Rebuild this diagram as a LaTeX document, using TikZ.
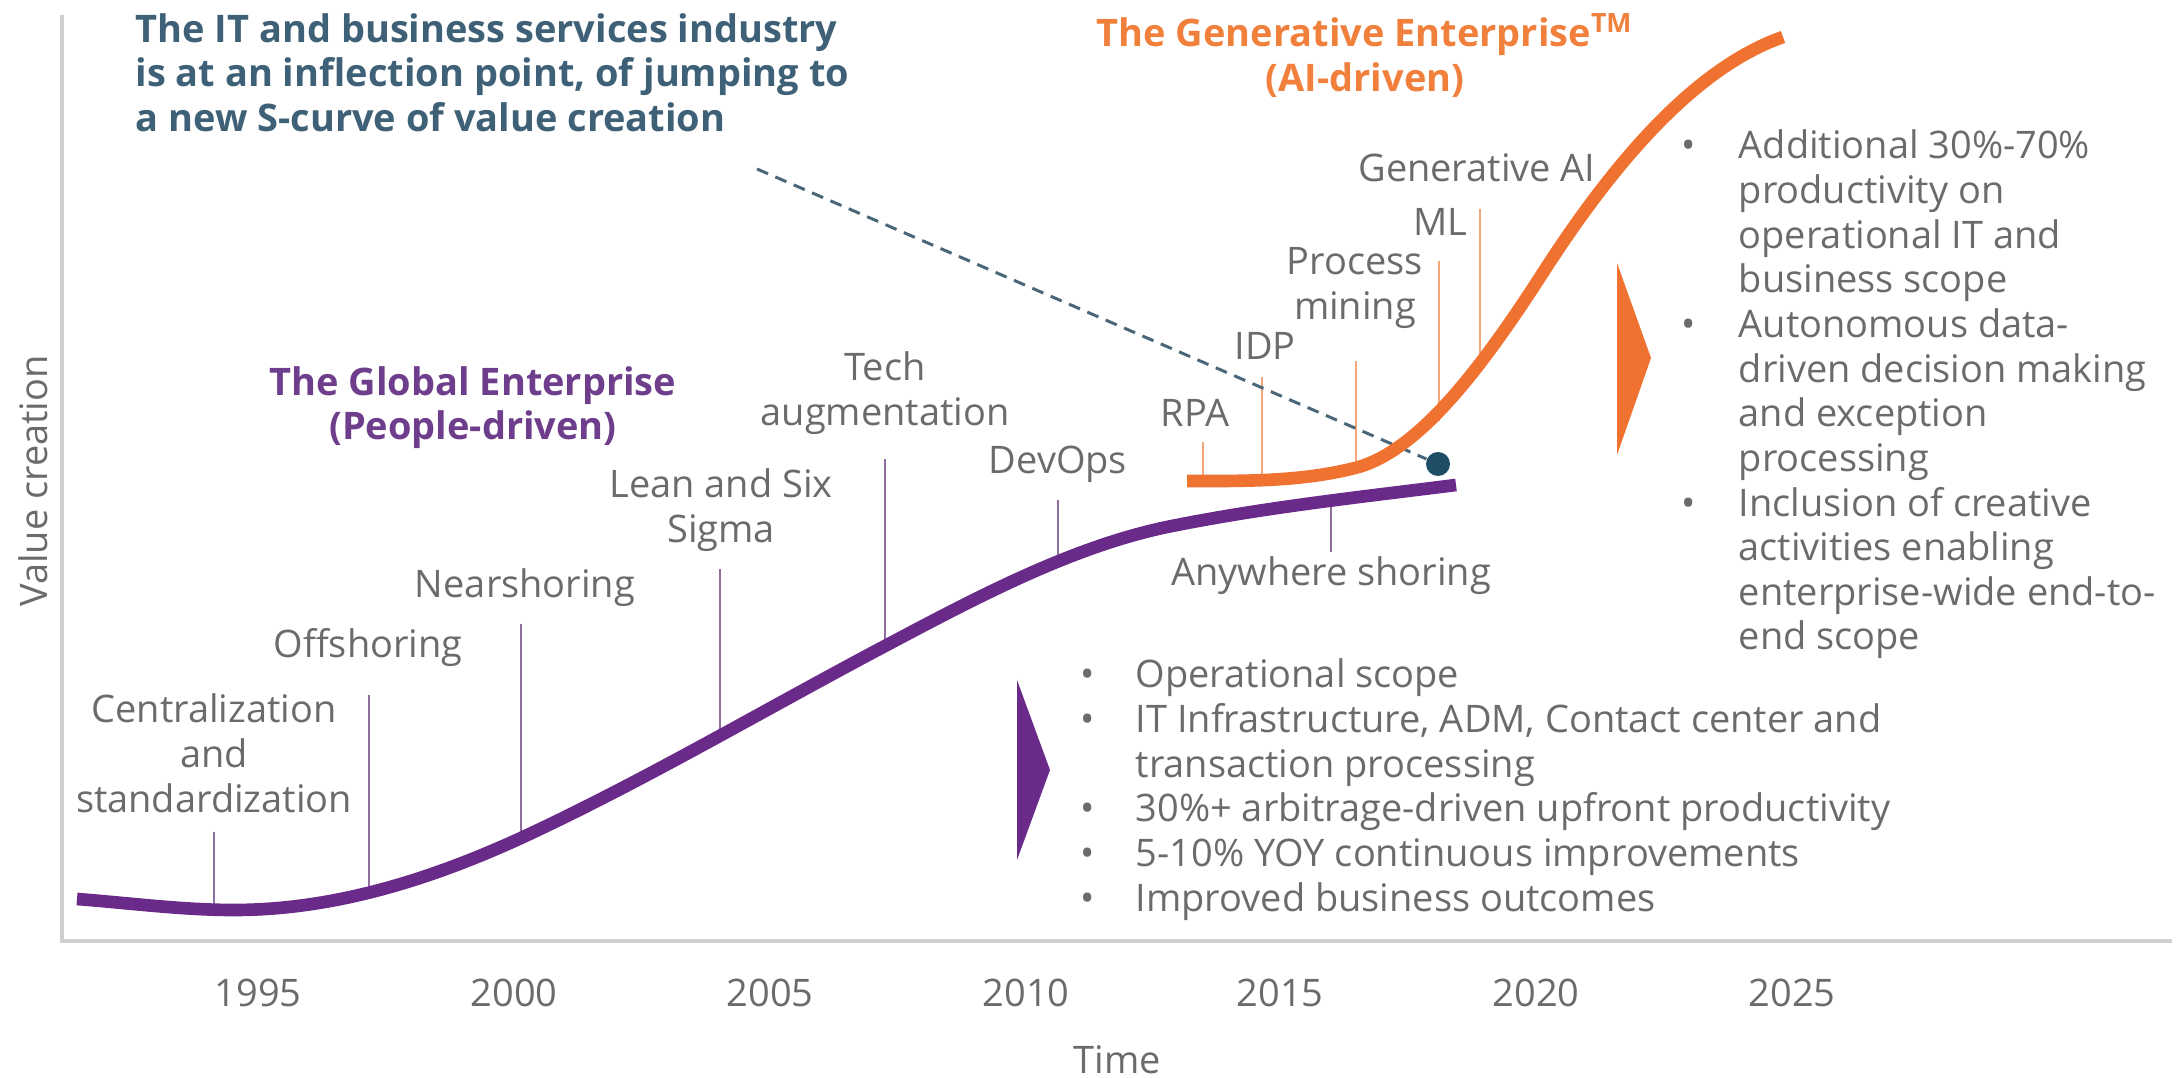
\documentclass[tikz,border=0pt]{standalone}
\usepackage{fontspec}
\setmainfont{Open Sans}
\usepackage{tikz}
\usetikzlibrary{positioning}
\definecolor{titleblue}{HTML}{3F6177}
\definecolor{dotblue}{HTML}{1D4E66}
\definecolor{dashblue}{HTML}{4A6779}
\definecolor{curvepurple}{HTML}{6A2A8A}
\definecolor{titlepurple}{HTML}{6E3D8C}
\definecolor{tickpurple}{HTML}{8E6FA0}
\definecolor{curveorange}{HTML}{EF7231}
\definecolor{titleorange}{HTML}{F0803C}
\definecolor{tickorange}{HTML}{F5A57C}
\definecolor{labelgrey}{HTML}{6B6B6B}
\definecolor{axisgrey}{HTML}{CFCFCF}
\tikzset{
  greylabel/.style={text=labelgrey, font=\fontsize{10.8}{12.8}\selectfont, align=center, inner sep=0pt},
  titletext/.style={font=\fontsize{10.8}{12.6}\selectfont\bfseries, align=center, inner sep=0pt},
  bulletlist/.style={text=labelgrey, font=\fontsize{10.8}{12.7}\selectfont, inner sep=0pt, anchor=base west},
  purpletick/.style={draw=tickpurple, line width=0.6pt},
  orangetick/.style={draw=tickorange, line width=0.6pt},
  scurve/.style={line width=3.6pt}
}

\begin{document}
\begin{tikzpicture}[x=1cm, y=-1cm]
  \useasboundingbox (0,0) rectangle (21.77,10.78);

  % Axes
  \draw[axisgrey, line width=0.9pt] (0.62,0.15) -- (0.62,9.41) -- (21.72,9.41);
  \node[greylabel, rotate=90] (valuelabel) at (0.33,4.81) {Value creation};
  \node[greylabel] (timelabel) at (11.17,10.60) {Time};

  % Year markers
  \foreach \x/\yr in {2.58/1995, 5.14/2000, 7.70/2005, 10.26/2010, 12.80/2015, 15.36/2020, 17.92/2025} {
    \node[greylabel] (yr\yr) at (\x,9.93) {\yr};
  }

  % Milestone ticks of the people-driven curve
  \foreach \n/\x/\ya/\yb in {cen/2.14/8.32/9.10, off/3.69/6.95/8.93, near/5.21/6.24/8.38,
      lean/7.20/5.69/7.37, tech/8.85/4.59/6.46, devops/10.58/5.00/5.61, anyw/13.31/5.04/5.52} {
    \coordinate (\n-top) at (\x,\ya);
    \coordinate (\n-bot) at (\x,\yb);
    \draw[purpletick] (\n-top) -- (\n-bot);
  }

  % Milestone ticks of the AI-driven curve
  \foreach \n/\x/\ya/\yb in {rpa/12.03/4.42/4.81, idp/12.62/3.77/4.80, pm/13.56/3.61/4.68,
      ml/14.39/2.61/4.21, genai/14.80/2.09/3.71} {
    \coordinate (\n-top) at (\x,\ya);
    \coordinate (\n-bot) at (\x,\yb);
    \draw[orangetick] (\n-top) -- (\n-bot);
  }

  % Inflection point marker
  \node[circle, fill=dotblue, minimum size=0.24cm, inner sep=0pt] (jump) at (14.38,4.64) {};
  \coordinate (jumpfrom) at (7.57,1.69);
  \draw[dashblue, line width=0.85pt, dash pattern=on 0.12cm off 0.08cm] (jumpfrom) -- (jump);

  % People-driven S-curve
  \draw[curvepurple, scurve] (0.77,8.99) .. controls (1.29,9.03) and (1.82,9.10) .. (2.34,9.10)
    .. controls (3.30,9.10) and (4.25,8.82) .. (5.21,8.38)
    .. controls (6.42,7.82) and (7.64,7.10) .. (8.85,6.46)
    .. controls (9.81,5.95) and (10.76,5.45) .. (11.72,5.26)
    .. controls (12.67,5.07) and (13.61,4.97) .. (14.56,4.85);

  % AI-driven S-curve
  \draw[curveorange, scurve] (11.87,4.81) .. controls (12.43,4.81) and (12.99,4.82) .. (13.55,4.68)
    .. controls (14.18,4.52) and (14.81,3.69) .. (15.44,2.71)
    .. controls (16.24,1.47) and (17.03,0.65) .. (17.83,0.37);

  % Chevrons
  \fill[curvepurple] (10.17,6.80) -- (10.50,7.70) -- (10.17,8.60) -- cycle;
  \fill[curveorange] (16.17,2.63) -- (16.51,3.58) -- (16.17,4.55) -- cycle;

  % Titles
  \node[titletext, text=titleblue, anchor=west, align=left] (industry) at (1.35,0.725)
    {The IT and business services industry\\is at an inflection point, of jumping to\\a new S-curve of value creation};
  \node[titletext, text=titlepurple] (globalent) at (4.73,4.08) {The Global Enterprise\\(People-driven)};
  \node[titletext, text=titleorange] (genent) at (13.65,0.555) {The Generative Enterprise\textsuperscript{TM}\\(AI-driven)};

  % Milestone labels
  \node[greylabel] (cenlabel) at (2.14,7.53) {Centralization\\and\\standardization};
  \node[greylabel] (offlabel) at (3.68,6.48) {Offshoring};
  \node[greylabel] (nearlabel) at (5.25,5.88) {Nearshoring};
  \node[greylabel] (leanlabel) at (7.21,5.10) {Lean and Six\\Sigma};
  \node[greylabel] (techlabel) at (8.85,3.93) {Tech\\augmentation};
  \node[greylabel] (devopslabel) at (10.58,4.64) {DevOps};
  \node[greylabel] (anywlabel) at (13.31,5.76) {Anywhere shoring};
  \node[greylabel] (rpalabel) at (11.95,4.13) {RPA};
  \node[greylabel] (idplabel) at (12.65,3.46) {IDP};
  \node[greylabel] (pmlabel) at (13.55,2.88) {Process\\mining};
  \node[greylabel] (mllabel) at (14.40,2.22) {ML};
  \node[greylabel] (genailabel) at (14.77,1.68) {Generative AI};

  % Benefit lists
  \node[bulletlist] (peoplelist) at (10.80,6.88) {\begin{tabular}[t]{@{}p{0.55cm}@{}l@{}}
    • & Operational scope\\
    • & IT Infrastructure, ADM, Contact center and\\
      & transaction processing\\
    • & 30\%+ arbitrage-driven upfront productivity\\
    • & 5-10\% YOY continuous improvements\\
    • & Improved business outcomes
  \end{tabular}};
  \node[bulletlist] (ailist) at (16.81,1.59) {\begin{tabular}[t]{@{}p{0.57cm}@{}l@{}}
    • & Additional 30\%-70\%\\
      & productivity on\\
      & operational IT and\\
      & business scope\\
    • & Autonomous data-\\
      & driven decision making\\
      & and exception\\
      & processing\\
    • & Inclusion of creative\\
      & activities enabling\\
      & enterprise-wide end-to-\\
      & end scope
  \end{tabular}};
\end{tikzpicture}
\end{document}
